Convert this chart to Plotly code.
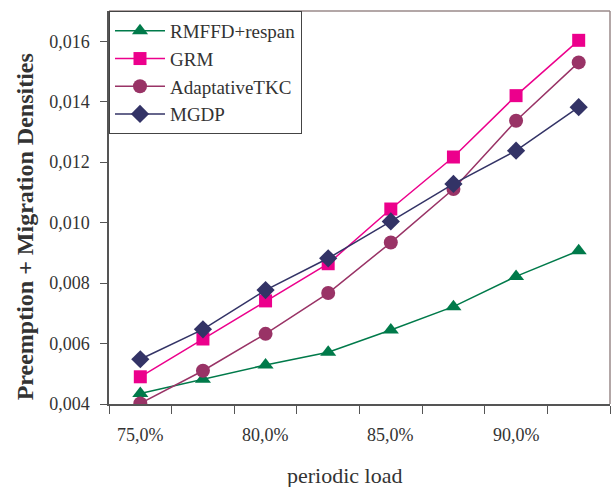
import plotly.graph_objects as go

loads = [75.0, 77.5, 80.0, 82.5, 85.0, 87.5, 90.0, 92.5]
label_loads = [75.0, 80.0, 85.0, 90.0]
label_text = ["75,0%", "80,0%", "85,0%", "90,0%"]

rmffd = [0.00435, 0.00482, 0.00529, 0.00571, 0.00645, 0.00722, 0.00822, 0.00907]
grm = [0.00490, 0.00615, 0.00741, 0.00864, 0.01045, 0.01217, 0.01420, 0.01603]
tkc = [0.00402, 0.00510, 0.00632, 0.00767, 0.00934, 0.01111, 0.01337, 0.01530]
mgdp = [0.00548, 0.00647, 0.00777, 0.00882, 0.01004, 0.01128, 0.01238, 0.01382]

series = [
    ("RMFFD+respan", rmffd, "#007a4a", "triangle-up", 14),
    ("GRM", grm, "#ec008c", "square", 13),
    ("AdaptativeTKC", tkc, "#993366", "circle", 14),
    ("MGDP", mgdp, "#333366", "diamond", 14),
]

FONT = "Liberation Serif, Times New Roman, serif"

fig = go.Figure()
for name, vals, color, sym, size in series:
    fig.add_trace(go.Scatter(
        x=loads, y=vals, name=name, mode="lines+markers",
        line=dict(color=color, width=1.5),
        marker=dict(symbol=sym, size=size, color=color, line=dict(width=0)),
    ))

boundaries = [73.75 + 2.5 * i for i in range(9)]

fig.update_layout(
    width=613, height=487,
    margin=dict(l=109, r=3, t=11, b=83),
    paper_bgcolor="white", plot_bgcolor="white",
    separators=",.",
    font=dict(family=FONT, size=18, color="#333333"),
    showlegend=True,
    legend=dict(
        x=0, y=1, xanchor="left", yanchor="top",
        bgcolor="white", bordercolor="#444444", borderwidth=1,
        font=dict(family=FONT, size=19, color="#333333"),
        itemwidth=50,
    ),
    xaxis=dict(
        range=[73.75, 93.75], tickmode="array", tickvals=boundaries,
        ticktext=[""] * len(boundaries), ticks="outside", ticklen=8,
        tickcolor="#555555", showline=True, linecolor="#555555", linewidth=1.5,
        showgrid=False, zeroline=False,
    ),
    yaxis=dict(
        range=[0.004, 0.017], tick0=0.004, dtick=0.002, tickformat=".3f",
        ticks="outside", ticklen=7, tickcolor="#555555", ticklabelstandoff=7,
        showline=True, linecolor="#555555", linewidth=1.5,
        showgrid=False, zeroline=False,
        tickfont=dict(family=FONT, size=18, color="#333333"),
    ),
)

# frame top/right
fig.add_shape(type="line", xref="paper", yref="paper", x0=0, x1=1, y0=1, y1=1,
              line=dict(color="#9a8a8a", width=1.5))
fig.add_shape(type="line", xref="paper", yref="paper", x0=1, x1=1, y0=0, y1=1,
              line=dict(color="#9a8a8a", width=1.5))

for xv, txt in zip(label_loads, label_text):
    fig.add_annotation(x=xv, xref="x", y=-0.079, yref="paper", text=txt,
                       showarrow=False, yanchor="middle",
                       font=dict(family=FONT, size=18, color="#333333"))

fig.add_annotation(x=0.471, xref="paper", y=-0.181, yref="paper", text="periodic load",
                   showarrow=False, yanchor="middle",
                   font=dict(family=FONT, size=22, color="#333333"))

fig.add_annotation(x=-0.1677, xref="paper", y=0.452, yref="paper",
                   text="<b>Preemption + Migration Densities</b>", textangle=-90,
                   showarrow=False, xanchor="center", yanchor="middle",
                   font=dict(family=FONT, size=24, color="#333333"))

fig.write_html("out.html", config={"displayModeBar": False},
               post_script="document.body.style.margin='0';document.body.style.overflow='hidden';")
